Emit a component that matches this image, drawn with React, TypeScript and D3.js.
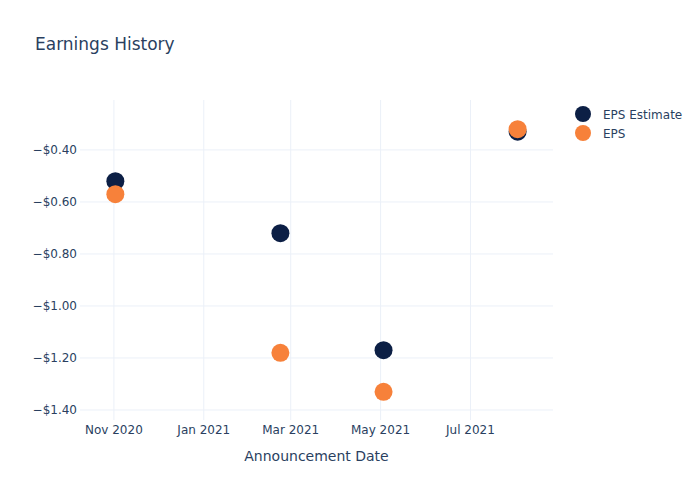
import * as d3 from 'd3'

const dates = ['2020-11-02', '2021-02-22', '2021-05-03', '2021-08-02']
const epsEstimate = [-0.52, -0.72, -1.17, -0.33]
const eps = [-0.57, -1.18, -1.33, -0.32]
const yTicks = [-0.4, -0.6, -0.8, -1.0, -1.2, -1.4]
const xTicks = ['2020-11-01', '2021-01-01', '2021-03-01', '2021-05-01', '2021-07-01']

const W = 700
const H = 500
const M = { t: 100, r: 147, b: 80, l: 80 }
const FONT = '"DejaVu Sans", "Open Sans", sans-serif'
const TXT = '#2a3f5f'
const GRID = '#ebf0f8'
const C_EST = '#0c1f45'
const C_EPS = '#f7813a'

const parse = d3.utcParse('%Y-%m-%d')

export default function App() {
  const x = d3
    .scaleUtc()
    .domain([parse('2020-10-09')!, parse('2021-08-26')!])
    .range([M.l, W - M.r])
  const y = d3.scaleLinear().domain([-1.4385, -0.208]).range([H - M.b, M.t])
  const fmtY = (v: number) => '\u2212$' + Math.abs(v).toFixed(2)
  const fmtX = d3.utcFormat('%b %Y')

  return (
    <svg width={W} height={H} style={{ position: 'absolute', left: 0, top: 0, fontFamily: FONT }}>
      <rect width={W} height={H} fill="#fff" />
      {xTicks.map((t) => {
        const px = x(parse(t)!)
        return (
          <g key={t}>
            <line x1={px} x2={px} y1={M.t} y2={H - M.b} stroke={GRID} />
            <text x={px} y={H - M.b + 14} textAnchor="middle" fontSize={12} fill={TXT}>
              {fmtX(parse(t)!)}
            </text>
          </g>
        )
      })}
      {yTicks.map((t) => (
        <g key={t}>
          <line x1={M.l} x2={W - M.r} y1={y(t)} y2={y(t)} stroke={GRID} />
          <text x={M.l - 3} y={y(t) + 4} textAnchor="end" fontSize={12} fill={TXT}>
            {fmtY(t)}
          </text>
        </g>
      ))}
      {dates.map((d, i) => (
        <circle key={'e' + i} cx={x(parse(d)!)} cy={y(epsEstimate[i])} r={9} fill={C_EST} />
      ))}
      {dates.map((d, i) => (
        <circle key={'a' + i} cx={x(parse(d)!)} cy={y(eps[i])} r={9} fill={C_EPS} />
      ))}
      <text x={35} y={50} fontSize={17} fill={TXT}>
        Earnings History
      </text>
      <text x={(M.l + W - M.r) / 2} y={461} textAnchor="middle" fontSize={14} fill={TXT}>
        Announcement Date
      </text>
      <g>
        <circle cx={583} cy={114} r={8} fill={C_EST} />
        <text x={603} y={118.5} fontSize={12} fill={TXT}>
          EPS Estimate
        </text>
        <circle cx={583} cy={133} r={8} fill={C_EPS} />
        <text x={603} y={137.5} fontSize={12} fill={TXT}>
          EPS
        </text>
      </g>
    </svg>
  )
}
